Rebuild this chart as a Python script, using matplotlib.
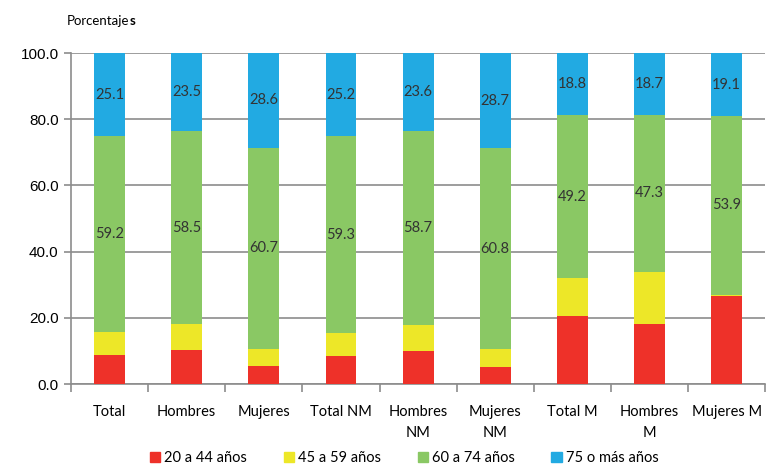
import numpy as np
import matplotlib
matplotlib.use("Agg")
import matplotlib.pyplot as plt
from matplotlib.patches import Patch

categories = ["Total", "Hombres", "Mujeres", "Total NM", "Hombres\nNM",
              "Mujeres\nNM", "Total M", "Hombres\nM", "Mujeres M"]
age_groups = ["20 a 44 años", "45 a 59 años", "60 a 74 años", "75 o más años"]

g20_44 = [8.8, 10.3, 5.4, 8.6, 10.1, 5.1, 20.6, 18.2, 26.7]
g45_59 = [6.9, 7.7, 5.3, 6.9, 7.6, 5.4, 11.4, 15.8, 0.3]
g60_74 = [59.2, 58.5, 60.7, 59.3, 58.7, 60.8, 49.2, 47.3, 53.9]
g75_mas = [25.1, 23.5, 28.6, 25.2, 23.6, 28.7, 18.8, 18.7, 19.1]

colors = ["#EE3129", "#EDE728", "#8AC864", "#22AAE2"]
series = [g20_44, g45_59, g60_74, g75_mas]
labelled = [False, False, True, True]

fig = plt.figure(figsize=(7.67, 4.65), dpi=100)
ax = fig.add_axes([0.0926, 0.174, 0.905, 0.712])

x = np.arange(len(categories))
bottom = np.zeros(len(categories))
for vals, col, lab in zip(series, colors, labelled):
    vals = np.array(vals)
    ax.bar(x, vals, 0.4, bottom=bottom, color=col, zorder=3)
    if lab:
        for xi, b, v in zip(x, bottom, vals):
            ax.text(xi, b + v / 2, f"{v:.1f}", ha="center", va="center",
                    fontsize=10.5, family="Lato", color="#333333", zorder=4)
    bottom += vals

ax.set_xlim(-0.5, len(categories) - 0.5)
ax.set_ylim(0, 100)
ax.set_yticks(np.arange(0, 101, 20))
ax.set_yticklabels([f"{v:.1f}" for v in np.arange(0, 101, 20)],
                   family="Liberation Sans", fontsize=11)
ax.yaxis.grid(True, color="#8c8c8c", linewidth=1.2, zorder=0)
ax.tick_params(axis="y", length=5, color="#8c8c8c", width=1.2, pad=4)

ax.set_xticks(np.arange(len(categories) + 1) - 0.5)
ax.set_xticklabels([])
ax.set_xticks(x, minor=True)
ax.set_xticklabels(categories, minor=True, family="Lato", fontsize=10.5,
                   linespacing=1.6, va="top")
ax.tick_params(axis="x", which="major", length=6, color="#8c8c8c", width=1.2)
ax.tick_params(axis="x", which="minor", length=0, pad=15)

for s in ["top", "right"]:
    ax.spines[s].set_visible(False)
for s in ["left", "bottom"]:
    ax.spines[s].set_color("#8c8c8c")
    ax.spines[s].set_linewidth(1.2)

t = fig.text(0.087, 0.955, "Porcentaje", fontsize=9.5, family="Lato",
             va="center")
ax.annotate("s", xy=(1, 0), xycoords=t, va="bottom", fontsize=9.5,
            family="Lato", weight="bold")

handles = [Patch(color=c) for c in colors]
fig.legend(handles, age_groups, loc="center", bbox_to_anchor=(0.527, 0.015),
           ncol=4, frameon=False, prop={"family": "Lato", "size": 10.5},
           handlelength=0.7, handleheight=0.7, handletextpad=0.3,
           columnspacing=2.5)

fig.savefig("out.png", dpi=100)
